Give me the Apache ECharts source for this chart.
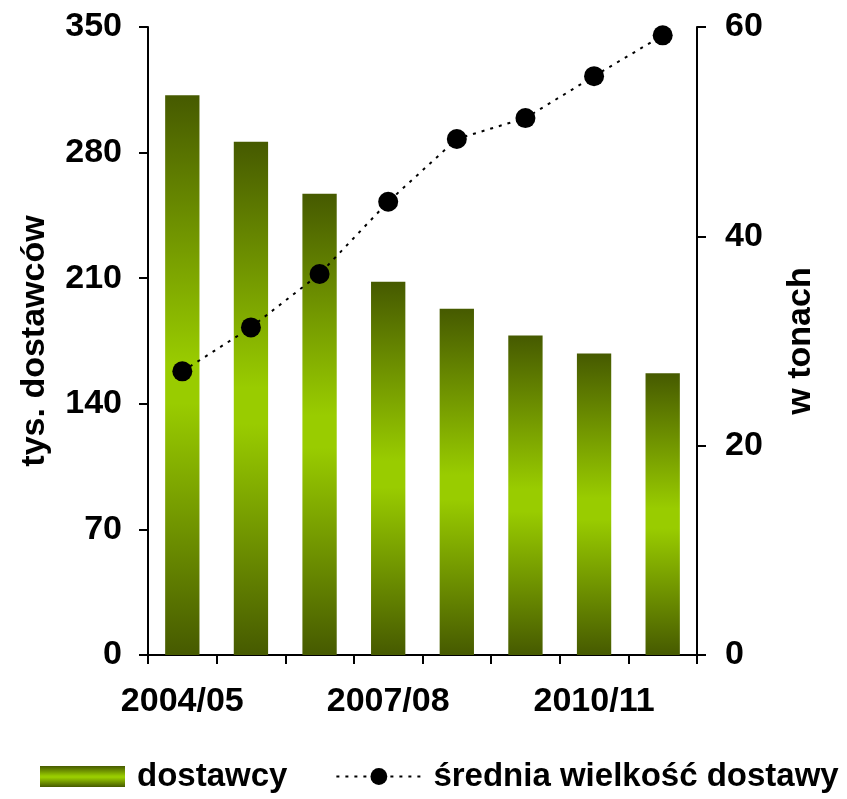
<!DOCTYPE html>
<html>
<head>
<meta charset="utf-8">
<script src="https://cdn.jsdelivr.net/npm/echarts@6/dist/echarts.min.js"></script>
<style>
html,body{margin:0;padding:0;background:#fff;}
#c{width:847px;height:799px;}
</style>
</head>
<body>
<div id="c"></div>
<script>
const categories = ['2004/05','2005/06','2006/07','2007/08','2008/09','2009/10','2010/11','2011/12'];
const dostawcy = [312, 286, 257, 208, 193, 178, 168, 157];
const sredniaWielkosc = [27.1, 31.3, 36.4, 43.3, 49.3, 51.3, 55.3, 59.2];
const leftTicks = {min: 0, max: 350, interval: 70};
const rightTicks = {min: 0, max: 60, interval: 20};

const FONT = '"Liberation Sans", Arial, sans-serif';
const FS = 34;
const barGradient = new echarts.graphic.LinearGradient(0, 0, 0, 1, [
  {offset: 0, color: '#465a00'},
  {offset: 0.48, color: '#99cc00'},
  {offset: 0.55, color: '#99cc00'},
  {offset: 1, color: '#465a00'}
]);

const chart = echarts.init(document.getElementById('c'));
chart.setOption({
  animation: false,
  backgroundColor: '#fff',
  textStyle: {fontFamily: FONT},
  grid: {left: 148, right: 150, top: 27, bottom: 144, containLabel: false},
  legend: {
    bottom: 6,
    left: 40,
    right: 0,
    padding: 0,
    itemWidth: 85,
    itemHeight: 21,
    itemGap: 48,
    textStyle: {fontFamily: FONT, fontWeight: 'bold', fontSize: 33, color: '#000', padding: [0, 0, 0, 7]},
    data: [
      {name: 'dostawcy', icon: 'rect'},
      {name: 'średnia wielkość dostawy'}
    ]
  },
  xAxis: {
    type: 'category',
    data: categories,
    boundaryGap: true,
    axisLine: {lineStyle: {color: '#000', width: 2}},
    axisTick: {show: true, interval: 0, length: 9, inside: false, lineStyle: {color: '#000', width: 2}},
    axisLabel: {interval: 2, margin: 30, color: '#000', fontWeight: 'bold', fontSize: FS, fontFamily: FONT}
  },
  yAxis: [
    {
      type: 'value',
      min: leftTicks.min, max: leftTicks.max, interval: leftTicks.interval,
      position: 'left',
      name: 'tys. dostawców',
      nameLocation: 'middle',
      nameGap: 96,
      nameRotate: 90,
      nameTextStyle: {color: '#000', fontWeight: 'bold', fontSize: FS, fontFamily: FONT},
      axisLine: {show: true, lineStyle: {color: '#000', width: 2}},
      axisTick: {show: true, length: 9, lineStyle: {color: '#000', width: 2}},
      axisLabel: {margin: 26, color: '#000', fontWeight: 'bold', fontSize: FS, fontFamily: FONT},
      splitLine: {show: false}
    },
    {
      type: 'value',
      min: rightTicks.min, max: rightTicks.max, interval: rightTicks.interval,
      position: 'right',
      name: 'w tonach',
      nameLocation: 'middle',
      nameGap: 87,
      nameRotate: 90,
      nameTextStyle: {color: '#000', fontWeight: 'bold', fontSize: FS, fontFamily: FONT},
      axisLine: {show: true, lineStyle: {color: '#000', width: 2}},
      axisTick: {show: true, length: 9, lineStyle: {color: '#000', width: 2}},
      axisLabel: {margin: 28, color: '#000', fontWeight: 'bold', fontSize: FS, fontFamily: FONT},
      splitLine: {show: false}
    }
  ],
  series: [
    {
      name: 'dostawcy',
      type: 'bar',
      yAxisIndex: 0,
      barWidth: '50%',
      data: dostawcy,
      itemStyle: {color: barGradient}
    },
    {
      name: 'średnia wielkość dostawy',
      type: 'line',
      yAxisIndex: 1,
      data: sredniaWielkosc,
      symbol: 'circle',
      symbolSize: 20,
      itemStyle: {color: '#000'},
      lineStyle: {color: '#000', width: 2, type: [3, 6]},
      z: 5
    }
  ]
});
</script>
</body>
</html>
